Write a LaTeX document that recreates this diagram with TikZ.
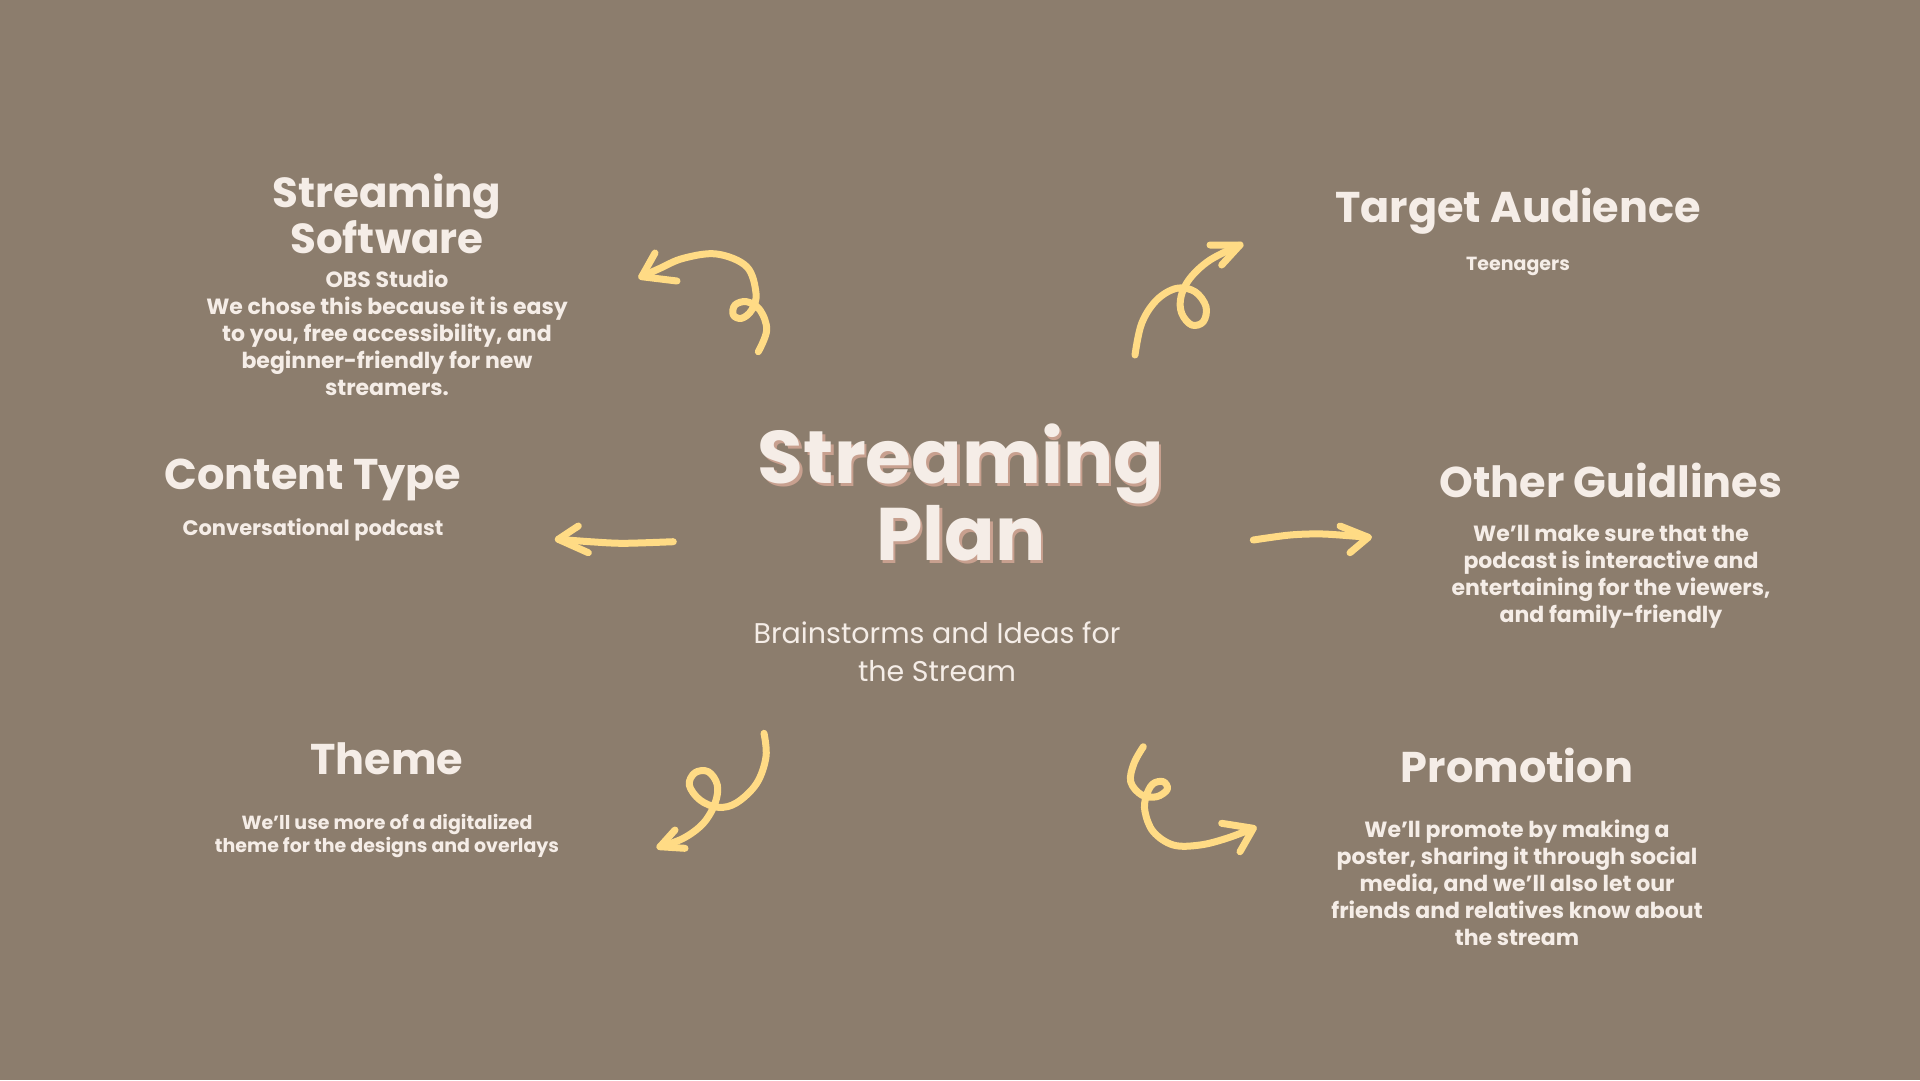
\documentclass[tikz,border=0pt]{standalone}
\usepackage{fontspec}
\setmainfont{Poppins}
\newfontfamily\headfont{Poppins}
\definecolor{bg}{HTML}{8C7D6D}
\definecolor{ink}{HTML}{F5EDE7}
\definecolor{shade}{HTML}{C8A08F}
\definecolor{squiggle}{HTML}{FFDB85}
\tikzset{
  head/.style={font=\headfont\bfseries\fontsize{43}{44}\selectfont, text=ink, inner sep=0pt, align=center},
  body/.style={font=\bfseries\fontsize{22}{27}\selectfont, text=ink, inner sep=0pt, align=center},
  small/.style={font=\bfseries\fontsize{19}{23}\selectfont, text=ink, inner sep=0pt, align=center},
  subtitle/.style={font=\headfont\fontsize{28.5}{38}\selectfont, text=ink, inner sep=0pt, align=center},
  titletext/.style={font=\headfont\bfseries\fontsize{74.5}{77}\selectfont, inner sep=0pt, align=center},
  swirl/.style={draw=squiggle, line width=7pt, line cap=round, line join=round},
}
\begin{document}
\begin{tikzpicture}[x=1pt,y=-1pt]
  \fill[bg] (0,0) rectangle (1920,1080);
  \useasboundingbox (0,0) rectangle (1920,1080);

  % central title with its soft drop shadow
  \node[titletext, text=shade] (titleshadow) at (963.5,495.5) {Streaming\\Plan};
  \node[titletext, text=ink] (title) at (961,492) {Streaming\\Plan};
  \node[subtitle] (sub) at (937,652) {Brainstorms and Ideas for\\the Stream};

  % topic blocks
  \node[head, font=\headfont\bfseries\fontsize{42}{44}\selectfont] (softh) at (387,214) {Streaming\\Software};
  \node[body] (softb) at (387,333) {OBS Studio\\We chose this because it is easy\\to you, free accessibility, and\\beginner-friendly for new\\streamers.};

  \node[head] (audh) at (1518,211) {Target Audience};
  \node[small] (audb) at (1518,266) {Teenagers};

  \node[head] (conth) at (313,480) {Content Type};
  \node[body, font=\bfseries\fontsize{21}{27}\selectfont] (contb) at (313,530) {Conversational podcast};

  \node[head] (guideh) at (1611,480) {Other Guidlines};
  \node[body] (guideb) at (1611,577) {We’ll make sure that the\\podcast is interactive and\\entertaining for the viewers,\\and family-friendly};

  \node[head] (themeh) at (387,759) {Theme};
  \node[small] (themeb) at (387,836) {We’ll use more of a digitalized\\theme for the designs and overlays};

  \node[head] (promoh) at (1517,765) {Promotion};
  \node[body] (promob) at (1517,883) {We’ll promote by making a\\poster, sharing it through social\\media, and we’ll also let our\\friends and relatives know about\\the stream};

  % hand-drawn arrows
  % towards Streaming Software
  \coordinate (t1) at (641.7,276.7);
  \draw[swirl] plot[smooth, tension=0.6] coordinates {(758.3,351.7) (766.7,330) (760,310) (746.7,301.7) (735,305) (733.3,315) (741.7,318.3) (751.7,310) (756,293.3) (746.7,266.7) (716.7,254) (683.3,258.3) (660,268.3) (t1)};
  \draw[swirl] (655,253) -- (t1) -- (677,281);

  % towards Target Audience
  \coordinate (t2) at (1240,245);
  \draw[swirl] plot[smooth, tension=0.6] coordinates {(1135,355) (1141.7,323.3) (1156.7,300) (1176.7,288.3) (1195,291.7) (1206,306.7) (1203.3,321.7) (1191.7,325) (1181.7,313.3) (1181,296.7) (1190,278.3) (1210,260) (t2)};
  \draw[swirl] (1210,245) -- (t2) -- (1221.7,265);

  % towards Content Type
  \coordinate (t3) at (558.3,539.3);
  \draw[swirl] plot[smooth] coordinates {(673.3,541.7) (623.3,543.3) (590,541.7) (t3)};
  \draw[swirl] (578.3,526) -- (t3) -- (588.3,552.7);

  % towards Other Guidlines
  \coordinate (t4) at (1368.3,537.3);
  \draw[swirl] plot[smooth] coordinates {(1253.3,540) (1290,535) (1323.3,534) (t4)};
  \draw[swirl] (1340,526) -- (t4) -- (1350,552.7);

  % towards Theme
  \coordinate (t5) at (660,846.7);
  \draw[swirl] plot[smooth, tension=0.6] coordinates {(764,733.3) (766,756.7) (756.7,783.3) (736.7,802.7) (718.3,807.3) (700,800) (689.3,785) (695,772.7) (708.3,771.7) (717.3,785) (715,803.3) (703.3,823.3) (683.3,838.3) (t5)};
  \draw[swirl] (675,830) -- (t5) -- (685,848.3);

  % towards Promotion
  \coordinate (t6) at (1253.3,828.3);
  \draw[swirl] plot[smooth, tension=0.6] coordinates {(1143.3,746.7) (1134,763.3) (1130.7,781.7) (1141.7,795) (1156.7,796.7) (1167.3,789.3) (1163.3,781.7) (1152.7,784) (1146,796.7) (1145,811.7) (1153.3,831.7) (1173.3,845) (1200,845) (1226.7,838.3) (t6)};
  \draw[swirl] (1221.7,823.3) -- (t6) -- (1240,851.7);
\end{tikzpicture}
\end{document}
